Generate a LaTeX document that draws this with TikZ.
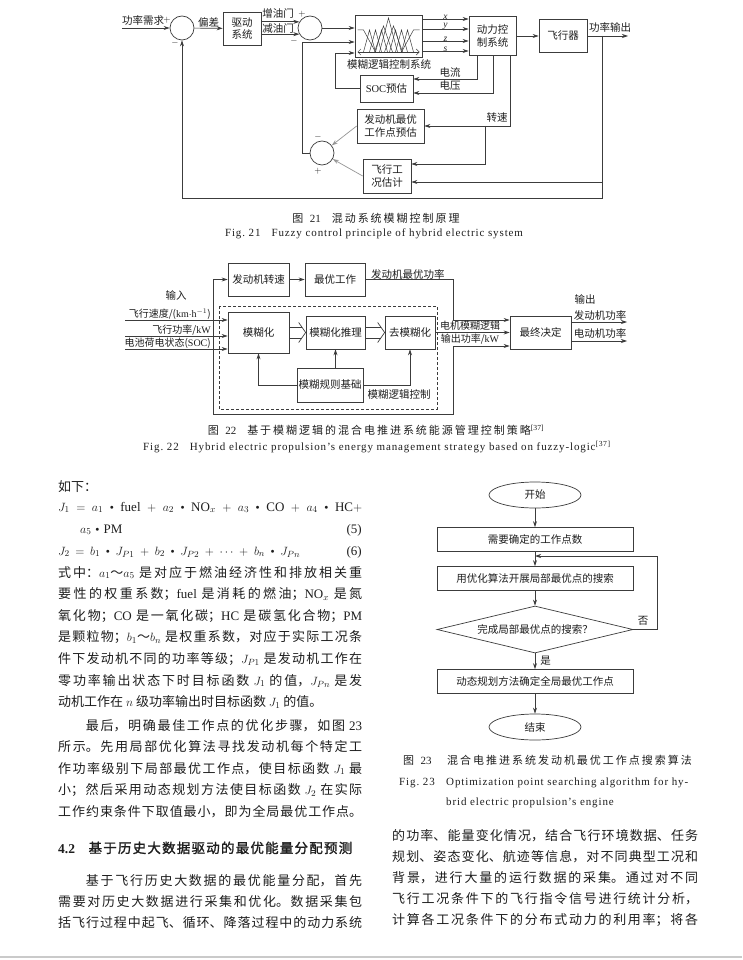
\documentclass[tikz,border=0pt]{standalone}
\usepackage{fontspec}
\setmainfont{Liberation Serif}
\newfontfamily\cjk{Noto Sans CJK SC}
\newfontfamily\cjkcap[LetterSpace=18]{Noto Sans CJK SC}
\newfontfamily\cjkhead[FakeBold=1.5,LetterSpace=9]{Noto Sans CJK SC}
\newfontfamily\capen[LetterSpace=8]{Liberation Serif}
\XeTeXlinebreaklocale "zh"
\XeTeXlinebreakskip=0pt plus 2pt
\usetikzlibrary{arrows.meta,positioning,shapes.geometric,calc}
\definecolor{ink}{RGB}{30,30,30}
\definecolor{wire}{RGB}{60,60,60}
\definecolor{faint}{RGB}{150,150,150}
\newcommand\figfont{\fontsize{10.5}{12.5}\selectfont\cjk}
\newcommand\dotop{\mathbin{\vcenter{\hbox{\scriptsize$\bullet$}}}}
\newcommand\eqspread{\medmuskip=6mu plus 6mu\thickmuskip=6mu plus 6mu\relax}
\tikzset{
  >={Stealth[length=6pt,width=4pt]},
  conn/.style={draw=wire,line width=0.7pt},
  blk/.style={draw=wire,line width=0.7pt,align=center,inner sep=1pt,text=ink},
  sumpt/.style={circle,draw=wire,line width=0.7pt,minimum size=24pt,inner sep=0pt},
  lbl/.style={inner sep=1pt,text=ink},
  sign/.style={inner sep=0pt,text=ink,font=\fontsize{9}{10}\selectfont},
  term/.style={ellipse,draw=wire,line width=0.7pt,minimum width=92pt,minimum height=26pt,inner sep=1pt,text=ink},
  proc/.style={draw=wire,line width=0.7pt,minimum width=196pt,minimum height=24pt,inner sep=1pt,text=ink},
  decide/.style={diamond,draw=wire,line width=0.7pt,aspect=4.2,minimum width=196pt,minimum height=47pt,inner sep=1pt,text=ink},
  figcap/.style={inner sep=0pt,text=ink,font=\fontsize{11}{13}\selectfont\cjkcap},
  figcapen/.style={inner sep=0pt,text=ink,font=\fontsize{11}{13}\selectfont\capen},
  bodytext/.style={anchor=base west,inner sep=0pt,text=ink,align=justify,
    font=\fontsize{13}{21.6}\selectfont\cjk},
  eqline/.style={inner sep=0pt,text=ink,font=\fontsize{13}{15}\selectfont},
  % membership functions
  pics/membership/.style={code={
    \draw[wire,line width=0.5pt] (-31,-6) -- (-25,-6) -- (-13,16);
    \draw[wire,line width=0.5pt] (13,16) -- (25,-6) -- (31,-6);
    \foreach \cx in {-19,-13,-7,7,13,19}
      \draw[wire,line width=0.5pt] (\cx-6,16) -- (\cx,-6) -- (\cx+6,16);
    \foreach \cx in {-5,5}
      \draw[wire,line width=0.5pt] (\cx-9,16) -- (\cx,-10) -- (\cx+9,16);
    \draw[wire,line width=0.5pt] (-9,16) -- (0,-18) -- (9,16);
    \draw[wire,line width=0.5pt,{Straight Barb[length=3pt]}-{Straight Barb[length=3pt]}] (-31,16) -- (31,16);
  }},
}

\begin{document}
\begin{tikzpicture}[x=1pt,y=-1pt,font=\figfont]
\useasboundingbox (0,0) rectangle (742,960);
\fill[white] (0,0) rectangle (742,960);

% Fig. 21
\coordinate (src) at (122,28);
\node[sumpt] (s1) at (182,28) {};
\node[blk,minimum width=38pt,minimum height=33pt] (drv) at (242,28.5) {驱动\\系统};
\node[sumpt] (s2) at (310,28) {};
\node[blk,minimum width=67pt,minimum height=42pt] (fz) at (388.5,36) {};
\pic at (fz.center) {membership};
\node[lbl] (fzl) at (389,65) {模糊逻辑控制系统};
\node[blk,minimum width=53pt,minimum height=27pt] (soc) at (386.5,88.5) {\textrm{SOC}预估};
\node[blk,minimum width=67pt,minimum height=34pt] (eopt) at (390.5,126) {发动机最优\\工作点预估};
\node[sumpt] (s3) at (322,153) {};
\node[blk,minimum width=48pt,minimum height=34pt] (fest) at (387,176) {飞行工\\况估计};
\node[blk,minimum width=47pt,minimum height=39pt] (pcs) at (492.5,36) {动力控\\制系统};
\node[blk,minimum width=48pt,minimum height=33pt] (plane) at (563,36) {飞行器};
\coordinate (dst) at (628,36);
\coordinate (tap) at (602,36);
\coordinate (rpmtap) at (485,126);

\draw[conn,->] (src) -- (s1);
\node[lbl,anchor=south west] (pdem) at (121,27) {功率需求};
\node[sign] (s1p) at (167,20) {$+$};
\node[sign] (s1m) at (175,43) {$-$};
\draw[conn,->] (s1) -- node[lbl,above] (dev) {偏差} (drv);
\draw[conn,->] (drv.east |- s2.150) -- (s2.150);
\draw[conn,->] (drv.east |- s2.210) -- (s2.210);
\node[lbl] (inc) at (278,14) {增油门};
\node[lbl] (dec) at (278,29) {减油门};
\node[sign] (s2p) at (302,14) {$+$};
\node[sign] (s2m) at (294,41) {$-$};
\draw[conn,->] (s2) -- (s2 -| fz.west);
\draw[conn,->] (s3.west) -| (302,42) -- (fz.west |- 0,42);
\draw[conn,->] (soc.west) -| (335,53) -- (fz.west |- 0,53);
\foreach \yy/\lab in {19/x,29/y,41/z,51/s}
  \draw[conn,->] (fz.east |- 0,\yy) -- node[lbl,above=-2pt,font=\fontsize{9.5}{10}\selectfont\rmfamily\itshape] {\lab} (pcs.west |- 0,\yy);
\draw[conn,->] (pcs) -- (plane);
\draw[conn,->] (plane) -- (dst);
\node[lbl,anchor=south] (pout) at (610,34) {功率输出};
\draw[conn,->] (tap) -- (tap |- 0,198) -| (s1.south);
\draw[conn,->] (tap |- 0,182) -- (fest.east |- 0,182);
\draw[conn,->] (pcs.south -| 477,0) |- (soc.east |- 0,79);
\draw[conn,->] (pcs.south -| 493,0) |- (soc.east |- 0,93);
\draw[conn,->] (pcs.south -| 510,0) |- (eopt.east);
\draw[conn,->] (rpmtap) |- (fest.east |- 0,164);
\node[lbl] (cur) at (450,72) {电流};
\node[lbl] (vol) at (450,86) {电压};
\node[lbl] (rpm) at (497,118) {转速};
\draw[faint,line width=0.7pt,->] (eopt.west) -- (s3);
\draw[faint,line width=0.7pt,->] (fest.west) -- (s3);
\node[sign] (s3m) at (318,137) {$-$};
\node[sign] (s3p) at (318,171) {$+$};

\node[figcap] (c21) at (376,218) {图 \textrm{21}\quad 混动系统模糊控制原理};
\node[figcapen] (e21) at (374,234) {Fig.\ 21\quad Fuzzy control principle of hybrid electric system};

% Fig. 22
\node[blk,minimum width=61pt,minimum height=33pt] (espd) at (258.5,279.5) {发动机转速};
\node[blk,minimum width=60pt,minimum height=33pt] (best) at (335,279.5) {最优工作};
\node[blk,minimum width=61pt,minimum height=41pt] (fuzz) at (258.5,332.5) {模糊化};
\node[blk,minimum width=59pt,minimum height=33pt] (infer) at (335.5,332.5) {模糊化推理};
\node[blk,minimum width=50pt,minimum height=33pt] (defuz) at (410,332.5) {去模糊化};
\node[blk,minimum width=66pt,minimum height=34pt] (rules) at (330,385) {模糊规则基础};
\node[blk,minimum width=61pt,minimum height=33pt] (final) at (540.5,332.5) {最终决定};
\draw[conn,dash pattern=on 3pt off 2pt] (219,306) rectangle (437,409);
\coordinate (a1) at (125,320);
\coordinate (a2) at (125,336);
\coordinate (a3) at (125,349);
\coordinate (lb) at (213,414);
\coordinate (o1) at (627,322);
\coordinate (o2) at (627,341);

\node[lbl] (inl) at (176,295) {输入};
\foreach \p in {a1,a2,a3}
  \draw[conn,->] (\p) -- (fuzz.west |- \p);
\node[lbl,anchor=south east,font=\fontsize{10}{12}\selectfont\cjk] (in1) at (212,320.5) {飞行速度/(\textrm{km$\cdot$h$^{-1}$})};
\node[lbl,anchor=south east,font=\fontsize{10}{12}\selectfont\cjk] (in2) at (212,336.5) {飞行功率/\textrm{kW}};
\node[lbl,anchor=south east,font=\fontsize{10}{12}\selectfont\cjk] (in3) at (212,349.5) {电池荷电状态(\textrm{SOC})};
\draw[conn,->] (lb) |- (espd.west);
\draw[conn,->] (lb) -| (453,346) -- (final.west |- 0,346);
\draw[conn,->] (espd) -- (best);
\draw[conn,->] (best.east) -| (453,320) -- (final.west |- 0,320);
\node[lbl,anchor=south west] (eopw) at (370,281) {发动机最优功率};
\draw[conn,->] (defuz) -- (final);
\node[lbl,font=\fontsize{10}{12}\selectfont\cjk] (mfl) at (470,326) {电机模糊逻辑};
\node[lbl,font=\fontsize{10}{12}\selectfont\cjk] (mfo) at (470,339.5) {输出功率/\textrm{kW}};
\foreach \a/\b in {fuzz/infer,infer/defuz}{
  \draw[conn] ($(\a.east)+(0,-5.5)$) -- ($(\b.west)+(-4,-5.5)$);
  \draw[conn] ($(\a.east)+(0,5.5)$) -- ($(\b.west)+(-4,5.5)$);
  \draw[conn] ($(\b.west)+(-7,-10)$) -- (\b.west) -- ($(\b.west)+(-7,10)$);
}
\draw[conn,->] (infer.south |- rules.north) -- (infer.south);
\draw[conn,->] (rules.west) -| (fuzz.south);
\draw[conn,->] (rules.east) -| (defuz.south);
\node[lbl] (flc) at (399,395) {模糊逻辑控制};
\draw[conn,->] (final.east |- o1) -- (o1);
\draw[conn,->] (final.east |- o2) -- (o2);
\node[lbl] (outl) at (585,299) {输出};
\node[lbl] (epw) at (600,315) {发动机功率};
\node[lbl] (mpw) at (600,333) {电动机功率};

\node[figcap] (c22) at (376,430) {图 \textrm{22}\quad 基于模糊逻辑的混合电推进系统能源管理控制策略\textsuperscript{\textrm{[37]}}};
\node[figcapen] (e22) at (377,447) {Fig.\ 22\quad Hybrid electric propulsion’s energy management strategy based on fuzzy-logic\textsuperscript{[37]}};

% Fig. 23
\node[term] (start) at (535,495) {开始};
\node[proc] (nwp) at (535,539.5) {需要确定的工作点数};
\node[proc] (srch) at (535,578.5) {用优化算法开展局部最优点的搜索};
\node[decide] (done) at (535,629.5) {完成局部最优点的搜索？};
\node[proc] (dp) at (535,681.5) {动态规划方法确定全局最优工作点};
\node[term] (stop) at (535,727) {结束};
\coordinate (jn) at (535,556);
\coordinate (rt) at (657,629.5);
\draw[conn,->] (start) -- (nwp);
\draw[conn,->] (nwp) -- (srch);
\draw[conn,->] (srch) -- (done);
\draw[conn,->] (done) -- node[lbl,right=4pt,pos=0.45] (yes) {是} (dp);
\draw[conn,->] (dp) -- (stop);
\draw[conn,->] (done.east) -- (rt) |- (jn);
\node[lbl] (no) at (643,621) {否};

\node[figcap,anchor=base west] (c23n) at (403,764) {图 \textrm{23}};
\node[figcap,anchor=base west] (c23) at (447,764) {混合电推进系统发动机最优工作点搜索算法};
\node[figcapen,anchor=base west] (e23n) at (399,785) {Fig.\ 23};
\node[figcapen,anchor=base west] (e23a) at (446,785) {Optimization point searching algorithm for hy-};
\node[figcapen,anchor=base west] (e23b) at (446,805) {brid electric propulsion’s engine};

% text columns
\node[bodytext,text width=304pt] (intro) at (58,491) {如下：};
\node[eqline,anchor=base west] (eq5a) at (58,511)
  {\eqspread\makebox[304pt][s]{$J_1=a_1\dotop\mathrm{fuel}+a_2\dotop\mathrm{NO}_x+a_3\dotop\mathrm{CO}+a_4\dotop\mathrm{HC}+$}};
\node[eqline,anchor=base west] (eq5b) at (80,533) {\eqspread$a_5\dotop\mathrm{PM}$};
\node[eqline,anchor=base east] (n5) at (362,533) {(5)};
\node[eqline,anchor=base west] (eq6) at (58,555)
  {\eqspread\makebox[242pt][s]{$J_2=b_1\dotop J_{P1}+b_2\dotop J_{P2}+\cdots+b_n\dotop J_{Pn}$}};
\node[eqline,anchor=base east] (n6) at (362,555) {(6)};

\node[bodytext,text width=304pt] (para1) at (58,577) {\tolerance=10000
式中：$a_1$～$a_5$ 是对应于燃油经济性和排放相关重\linebreak
要性的权重系数；\textrm{fuel} 是消耗的燃油；\textrm{NO}$_x$ 是氮\linebreak
氧化物；\textrm{CO} 是一氧化碳；\textrm{HC} 是碳氢化合物；\textrm{PM}\linebreak
是颗粒物；$b_1$～$b_n$ 是权重系数，对应于实际工况条\linebreak
件下发动机不同的功率等级；$J_{P1}$ 是发动机工作在\linebreak
零功率输出状态下时目标函数 $J_1$ 的值，$J_{Pn}$ 是发\linebreak
动机工作在 $n$ 级功率输出时目标函数 $J_1$ 的值。\par};

\node[bodytext,text width=304pt,font=\fontsize{13}{21.5}\selectfont\cjk] (para2) at (58,730) {\tolerance=10000 \parfillskip=0pt
　　最后，明确最佳工作点的优化步骤，如图 \textrm{23}\linebreak
所示。先用局部优化算法寻找发动机每个特定工\linebreak
作功率级别下局部最优工作点，使目标函数 $J_1$ 最\linebreak
小；然后采用动态规划方法使目标函数 $J_2$ 在实际\linebreak
工作约束条件下取值最小，即为全局最优工作点。\par};

\node[anchor=base west,inner sep=0pt,text=ink,font=\fontsize{13.5}{15}\selectfont] (h42) at (58,853)
  {\textbf{4.2}\quad{\cjkhead 基于历史大数据驱动的最优能量分配预测}};

\node[bodytext,text width=304pt,font=\fontsize{13}{21}\selectfont\cjk] (para3) at (58,885) {\tolerance=10000 \parfillskip=0pt
　　基于飞行历史大数据的最优能量分配，首先\linebreak
需要对历史大数据进行采集和优化。数据采集包\linebreak
括飞行过程中起飞、循环、降落过程中的动力系统\par};

\node[bodytext,text width=306pt,font=\fontsize{13}{21}\selectfont\cjk] (para4) at (392,840) {\tolerance=10000 \parfillskip=0pt
的功率、能量变化情况，结合飞行环境数据、任务\linebreak
规划、姿态变化、航迹等信息，对不同典型工况和\linebreak
背景，进行大量的运行数据的采集。通过对不同\linebreak
飞行工况条件下的飞行指令信号进行统计分析，\linebreak
计算各工况条件下的分布式动力的利用率；将各\par};

\draw[faint!50,line width=1.2pt] (0,957) -- (742,957);
\end{tikzpicture}
\end{document}
